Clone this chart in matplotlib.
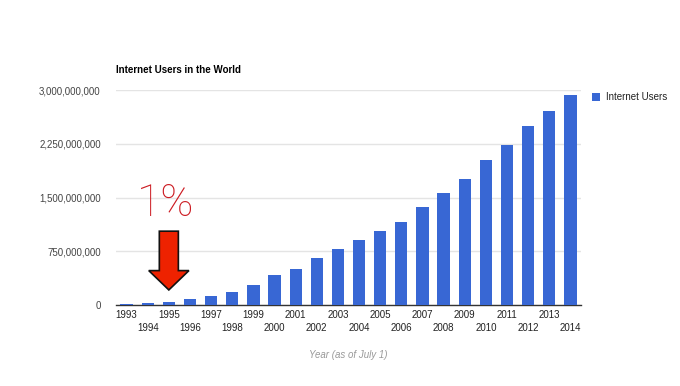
import matplotlib
matplotlib.use("Agg")
import matplotlib.pyplot as plt
from matplotlib.patches import FancyArrow
from matplotlib.ticker import FuncFormatter

plt.rcParams['font.family'] = ['Liberation Sans', 'DejaVu Sans']

years = [str(y) for y in range(1993, 2015)]
users = [14161570, 25454590, 44838900, 77433860, 120758310, 188023930,
         280866670, 413425190, 500609240, 662663600, 778555680, 910060180,
         1029717906, 1157500065, 1373040542, 1562067594, 1752333178,
         2023202974, 2231957359, 2494736248, 2712239573, 2925249355]
yticks = [0, 750000000, 1500000000, 2250000000, 3000000000]

fig = plt.figure(figsize=(6.8, 3.86), dpi=100)
ax = fig.add_axes([116/680, 1 - 305/386, 465/680, 215/386])

x = list(range(len(years)))
ax.bar(x, users, width=0.58, color='#3867D4', zorder=3, label='Internet Users')
ax.set_xlim(-0.5, len(years) - 0.5)
ax.set_ylim(0, 3000000000)
ax.set_yticks(yticks)
ax.yaxis.set_major_formatter(FuncFormatter(lambda v, p: f"{int(v):,}"))
ax.grid(axis='y', color='#e4e4e4', linewidth=1, zorder=0)
for s in ['top', 'right', 'left']:
    ax.spines[s].set_visible(False)
ax.spines['bottom'].set_color('#333333')
ax.spines['bottom'].set_linewidth(1)
ax.tick_params(axis='y', length=0, labelsize=7, labelcolor='#444444', pad=11)
ax.tick_params(axis='x', length=0, labelsize=7, labelcolor='#222222')
ax.set_xticks(x)
ax.set_xticklabels([y if i % 2 == 0 else '\n' + y for i, y in enumerate(years)],
                   linespacing=1.45)

ax.set_xlabel('Year (as of July 1)', fontsize=7, style='italic', color='#999999',
              labelpad=12)
ax.text(0, 1.07, 'Internet Users in the World', transform=ax.transAxes,
        fontsize=7, fontweight='bold', color='#000000', va='bottom', ha='left')

leg = ax.legend(loc='upper left', bbox_to_anchor=(1.005, 1.03), frameon=False,
                fontsize=7, handlelength=0.8, handleheight=0.8, handletextpad=0.6,
                labelcolor='#222222')

# annotation: 1% label and arrow at 1995
ax.text(1.85, 1470000000, '1%', fontsize=32, color='#cc1b22', ha='center',
        va='center_baseline', family=['Roboto', 'DejaVu Sans'], fontweight='light',
        zorder=5)
arrow = FancyArrow(2.0, 1030000000, 0, -820000000, width=0.9, head_width=1.9,
                   head_length=270000000, length_includes_head=True,
                   facecolor='#ee2200', edgecolor='#111111', linewidth=1.2,
                   zorder=6, clip_on=False)
ax.add_patch(arrow)

fig.savefig('out.png', dpi=100)
